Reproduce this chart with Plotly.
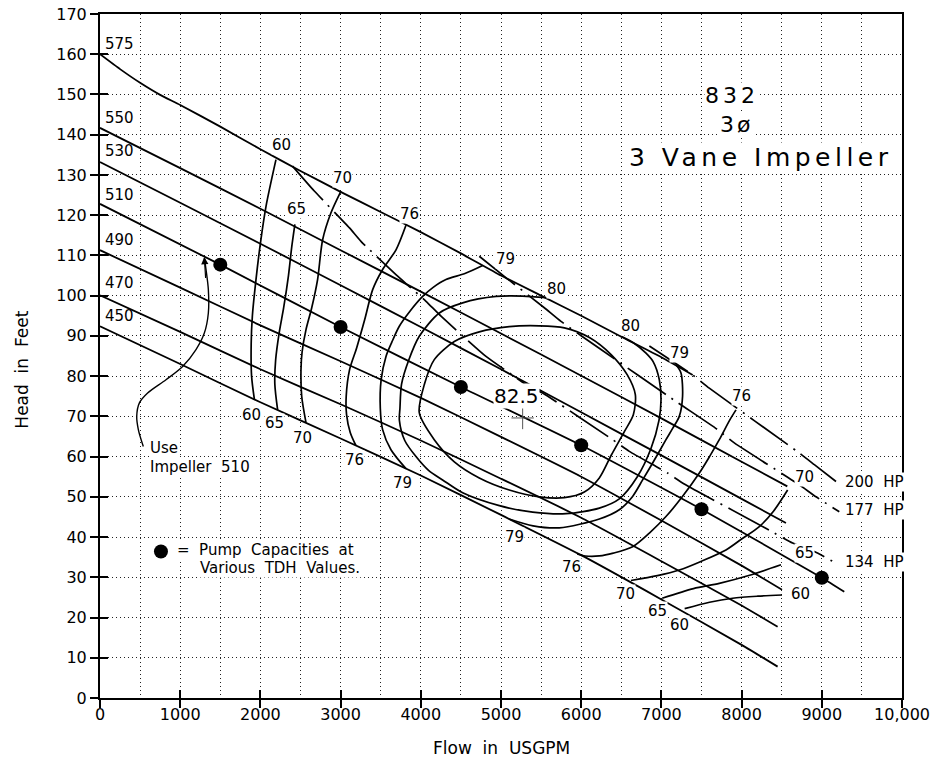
import plotly.graph_objects as go

# ---------------- data ----------------
x_ticks = [0, 1000, 2000, 3000, 4000, 5000, 6000, 7000, 8000, 9000, 10000]
x_ticktext = ["0", "1000", "2000", "3000", "4000", "5000", "6000", "7000", "8000", "9000", "10,000"]
y_ticks = list(range(0, 171, 10))

# impeller diameter curves (flow, head)
imp575_x = [0, 250, 500, 750, 1000, 1500, 2000, 2500, 3000, 3500, 4000, 4500, 5000, 5500, 6000, 6500, 7000, 7390]
imp575_y = [160, 156.3, 152.9, 149.9, 147.4, 142, 136.4, 131, 125.8, 120.8, 115.8, 110.5, 105, 100, 95, 89.8, 84.7, 80.3]
imp550_x = [0, 1000, 2000, 3000, 4000, 5000, 6000, 7000, 8000, 8570]
imp550_y = [141.7, 131.7, 121.6, 111.3, 101, 90.6, 80.1, 69.5, 58.7, 52.6]
imp530_x = [0, 1000, 2000, 3000, 4000, 5000, 6000, 7000, 8000, 8553]
imp530_y = [133.2, 123.1, 112.9, 102.6, 92.2, 81.7, 71, 60.3, 49.5, 43.5]
imp510_x = [0, 1500, 3000, 4500, 6000, 7500, 9000, 9280]
imp510_y = [122.8, 107.7, 92.2, 77.3, 62.8, 46.9, 29.9, 26.4]
imp490_x = [0, 1000, 2000, 3000, 4000, 5000, 6000, 7000, 8000, 8504]
imp490_y = [111.3, 102, 92.6, 83.7, 74.6, 64.9, 55, 44.1, 32.9, 26.9]
imp470_x = [0, 1000, 2000, 3000, 4000, 5000, 6000, 7000, 8000, 8449]
imp470_y = [100.1, 91, 81.7, 73, 64, 54.5, 44.8, 34, 23, 17.7]
imp450_x = [0, 1000, 2000, 3000, 4000, 5000, 6000, 7000, 8000, 8449]
imp450_y = [92.4, 83, 73.5, 64.5, 55.3, 45.5, 35.5, 24.5, 13.2, 7.8]
imp_names = ["575", "550", "530", "510", "490", "470", "450"]
imp_label_y = [162.5, 144.2, 135.9, 125.1, 113.9, 103.1, 95.0]

# efficiency contours
eff60_left_x = [2194, 2070, 2000, 1945, 1900, 1885, 1890, 1925]
eff60_left_y = [133.8, 122.2, 113, 104, 95, 88, 80, 74.2]
eff65_left_x = [2430, 2390, 2350, 2290, 2236, 2190, 2180, 2215]
eff65_left_y = [117.7, 112, 105, 97, 91, 84, 78, 71.6]
eff70_left_x = [3005, 2880, 2776, 2713, 2640, 2568, 2520, 2506, 2515, 2568]
eff70_left_y = [126, 120.6, 113.9, 104, 97, 91.5, 86, 81.6, 75, 68.5]
eff76_left_x = [3815, 3691, 3524, 3400, 3300, 3200, 3112, 3070, 3074, 3120, 3192]
eff76_left_y = [117.5, 111.4, 106.5, 101.5, 94, 87, 81.6, 75, 70.5, 66, 62.7]
eff79_left_x = [4771, 4550, 4314, 4150, 4023, 3860, 3732, 3640, 3566, 3505, 3495, 3524, 3628, 3815]
eff79_left_y = [107.5, 105.5, 104, 102, 99.8, 96, 92.4, 88.5, 84.9, 79, 72, 66.7, 61.7, 57]
eff79_right_x = [7182, 7244, 7264, 7223, 7140, 7057, 6891, 6766, 6641, 6475, 6226, 5727, 5400, 5100]
eff79_right_y = [82.8, 80.8, 75, 70, 67, 64.2, 58.4, 54.2, 50.1, 46.8, 44.5, 42.3, 42.8, 44.5]
eff80_x = [5560, 5270, 4938, 4522, 4231, 3981, 3850, 3760, 3740, 3733, 3800, 3940, 4100, 4272, 4522, 4979,
           5395, 5810, 6226, 6475, 6700, 6870, 6970, 6995, 6974, 6900, 6808, 6650, 6496]
eff80_y = [99.5, 99.9, 99.8, 98.2, 95.7, 89.9, 84, 78, 72, 69, 64, 60, 56.5, 54.2, 51, 47.8,
           46.2, 45.8, 47.2, 49.5, 55, 62, 69, 74, 79.1, 83.5, 85.7, 88.3, 89.9]
eff825_x = [3981, 4044, 4168, 4418, 4729, 5103, 5478, 5790, 6102, 6376, 6575, 6675, 6650, 6538, 6376, 6226,
            6039, 5790, 5478, 5103, 4729, 4418, 4168, 3981]
eff825_y = [70.9, 77.9, 84.1, 88.6, 91, 92.3, 92.5, 92, 89.6, 85.3, 80.3, 75.4, 70.4, 66.2, 60.4, 54.7,
            51.2, 49.8, 50, 51.7, 54.7, 58.7, 64.2, 70.9]
eff76_right_x = [7930, 7850, 7722, 7600, 7473, 7260, 7057, 6850, 6641, 6400, 6226, 6050, 5950]
eff76_right_y = [71.6, 69, 64.2, 60, 55.9, 50, 45.1, 41, 37.6, 36, 35.3, 35.3, 35.8]
eff70_right_x = [8574, 8400, 8221, 8000, 7805, 7500, 7223, 6950, 6620]
eff70_right_y = [51.7, 46.5, 42.6, 39.5, 36.8, 34, 31.8, 30.4, 29.2]
eff65_right_x = [7010, 7400, 7722, 8100, 8491]
eff65_right_y = [24.8, 27.2, 28.5, 30.5, 33.1]
eff60_right_x = [7290, 7600, 7888, 8200, 8504]
eff60_right_y = [22.2, 23.8, 24.8, 25.3, 25.6]

# efficiency labels (text, flow, head)
eff_label_text = ["60", "65", "70", "76", "60", "65", "70", "76", "79", "79", "80", "80", "79", "76", "70",
                  "79", "76", "70", "65", "60", "60", "65"]
eff_label_x = [2257, 2444, 3025, 3857, 1883, 2173, 2526, 3171, 3773, 5062, 5686, 6620, 7223, 7993, 8782,
               5166, 5885, 6558, 6952, 7223, 8740, 8782]
eff_label_y = [137.5, 121.5, 129.2, 120.3, 70.4, 68.3, 64.6, 59.2, 53.4, 109.2, 101.7, 92.4, 85.7, 75, 55,
               39.9, 32.5, 25.9, 21.5, 18.2, 25.9, 36.1]

# horsepower lines
hp134_x = [2400, 2672, 3108, 3254, 3690, 3878, 4065, 4252, 4813, 5103, 5312, 5519, 6392, 6600, 7077, 7285,
           8180, 8408, 8636, 8907, 9177]
hp134_y = [132.2, 126, 116.9, 113.5, 105.2, 101.9, 98.6, 94.9, 84.9, 80.8, 77.9, 75.8, 64.2, 61.3, 55.9, 53.2,
           43.5, 41, 38.5, 36.4, 33.5]
hp177_x = [4729, 5041, 5540, 5748, 6247, 7182, 7701, 7909, 8719, 8928, 9218]
hp177_y = [109.8, 104.8, 97, 93.6, 86.6, 73.7, 66.7, 63.4, 53, 50, 46.3]
hp200_x = [6850, 7389, 7597, 8719, 8907, 9177]
hp200_y = [87.5, 80.3, 77, 60.9, 58, 53.8]
hp_names = ["200\u00a0 HP", "177\u00a0 HP", "134\u00a0 HP"]
hp_label_y = [53.8, 46.8, 33.9]

# pump capacities (dots on impeller 510)
cap_x = [1500, 3000, 4500, 6000, 7500, 9000]
cap_y = [107.7, 92.2, 77.3, 62.8, 46.9, 29.9]

# "Use Impeller 510" pointer curve
use_x = [540, 478, 458, 490, 594, 823, 1030, 1197, 1301, 1351, 1351, 1322, 1301]
use_y = [62.5, 66.7, 70, 73.3, 75.8, 79.1, 82.4, 86.6, 90.7, 95.7, 101.5, 106.5, 109.4]

bep_x, bep_y = [5270], [69.6]

# ---------------- figure ----------------
FONT = "DejaVu Sans"
fig = go.Figure()


def add_line(xs, ys, width=1.5, dash=None, smoothing=0.7):
    fig.add_trace(go.Scatter(x=xs, y=ys, mode="lines",
                             line=dict(color="black", width=width, dash=dash, shape="spline", smoothing=smoothing),
                             hoverinfo="skip", showlegend=False))


for xs, ys in [(imp575_x, imp575_y), (imp550_x, imp550_y), (imp530_x, imp530_y), (imp510_x, imp510_y),
               (imp490_x, imp490_y), (imp470_x, imp470_y), (imp450_x, imp450_y)]:
    add_line(xs, ys, width=1.8, smoothing=0.5)

for xs, ys in [(eff60_left_x, eff60_left_y), (eff65_left_x, eff65_left_y), (eff70_left_x, eff70_left_y),
               (eff76_left_x, eff76_left_y), (eff79_left_x, eff79_left_y), (eff79_right_x, eff79_right_y),
               (eff80_x, eff80_y), (eff825_x, eff825_y), (eff76_right_x, eff76_right_y),
               (eff70_right_x, eff70_right_y), (eff65_right_x, eff65_right_y), (eff60_right_x, eff60_right_y)]:
    add_line(xs, ys, width=1.7, smoothing=0.8)

HP_DASH = "46px,7px,2px,7px"
for xs, ys in [(hp134_x, hp134_y), (hp177_x, hp177_y), (hp200_x, hp200_y)]:
    add_line(xs, ys, width=1.7, dash=HP_DASH, smoothing=0.5)

add_line(use_x, use_y, width=1.4, smoothing=0.9)

fig.add_trace(go.Scatter(x=cap_x, y=cap_y, mode="markers",
                         marker=dict(color="black", size=14, symbol="circle"),
                         hoverinfo="skip", showlegend=False))
fig.add_trace(go.Scatter(x=[760], y=[36.4], mode="markers",
                         marker=dict(color="black", size=14, symbol="circle"),
                         hoverinfo="skip", showlegend=False))
fig.add_trace(go.Scatter(x=bep_x, y=bep_y, mode="markers",
                         marker=dict(symbol="cross-thin", size=16, line=dict(width=1, color="#555")),
                         hoverinfo="skip", showlegend=False))
# invisible trace on the overlay axes (inside tick marks)
fig.add_trace(go.Scatter(x=[0], y=[0], xaxis="x2", yaxis="y2", mode="markers",
                         marker=dict(opacity=0), hoverinfo="skip", showlegend=False))

ann = []
for t, x, y in zip(eff_label_text, eff_label_x, eff_label_y):
    ann.append(dict(x=x, y=y, text=t, showarrow=False, font=dict(family=FONT, size=15, color="black"),
                    bgcolor="white", borderpad=0))
for t, y in zip(imp_names, imp_label_y):
    ann.append(dict(x=42, y=y, text=t, showarrow=False, xanchor="left",
                    font=dict(family=FONT, size=15, color="black")))
for t, y in zip(hp_names, hp_label_y):
    ann.append(dict(x=9282, y=y, text=t, showarrow=False, xanchor="left",
                    font=dict(family=FONT, size=15, color="black"), bgcolor="white", borderpad=0))
ann.append(dict(x=5187, y=75, text="82.5", showarrow=False, font=dict(family=FONT, size=20, color="black"),
                bgcolor="white", borderpad=0))
ann.append(dict(x=616, y=62.2, text="Use", showarrow=False, xanchor="left",
                font=dict(family=FONT, size=15, color="black"), bgcolor="white", borderpad=0))
ann.append(dict(x=616, y=57.4, text="Impeller\u00a0 510", showarrow=False, xanchor="left",
                font=dict(family=FONT, size=15, color="black"), bgcolor="white", borderpad=0))
ann.append(dict(x=951, y=36.8, text="=\u00a0 Pump\u00a0 Capacities\u00a0 at", showarrow=False, xanchor="left",
                font=dict(family=FONT, size=15, color="black"), bgcolor="white", borderpad=0))
ann.append(dict(x=1238, y=32.3, text="Various\u00a0 TDH\u00a0 Values.", showarrow=False, xanchor="left",
                font=dict(family=FONT, size=15, color="black"), bgcolor="white", borderpad=0))
ann.append(dict(x=1301, y=109.6, ax=1318, ay=104.0, axref="x", ayref="y", text="", showarrow=True,
                arrowhead=2, arrowsize=1.2, arrowwidth=1.2, arrowcolor="black"))
# title block
ann.append(dict(x=(733 - 100.7) / 802 * 10000, y=(698 - 95) / 4.024,
                text='<span style="letter-spacing:4px">832</span>', showarrow=False,
                font=dict(family=FONT, size=22, color="black"), bgcolor="white", borderpad=0))
ann.append(dict(x=(737 - 100.7) / 802 * 10000, y=(698 - 124) / 4.024,
                text='<span style="letter-spacing:3px">3ø</span>', showarrow=False,
                font=dict(family=FONT, size=22, color="black"), bgcolor="white", borderpad=0))
ann.append(dict(x=(762 - 100.7) / 802 * 10000, y=(698 - 157) / 4.024,
                text='<span style="letter-spacing:4.5px">3 Vane Impeller</span>', showarrow=False,
                font=dict(family=FONT, size=25, color="black"), bgcolor="white", borderpad=0))
# axis titles
ann.append(dict(xref="paper", yref="paper", x=0.5, y=-0.073, xanchor="center", yanchor="middle",
                text="Flow\u00a0 in\u00a0 USGPM", showarrow=False,
                font=dict(family=FONT, size=17, color="black")))
ann.append(dict(xref="paper", yref="paper", x=-0.0973, y=0.48, xanchor="center", yanchor="middle",
                text="Head\u00a0 in\u00a0 Feet", showarrow=False,
                textangle=-90, font=dict(family=FONT, size=17, color="black")))

GRID = dict(showgrid=True, gridcolor="#222", gridwidth=1.2, griddash="1px,3px")

fig.update_layout(
    width=936, height=767,
    margin=dict(l=100, r=34, t=14, b=69, autoexpand=False),
    paper_bgcolor="white", plot_bgcolor="white",
    font=dict(family=FONT, color="black"),
    annotations=ann,
    xaxis=dict(range=[0, 10000], tickvals=x_ticks, ticktext=x_ticktext, ticks="outside", ticklen=8,
               tickwidth=2, tickcolor="black", showline=True, linewidth=2, linecolor="black", mirror=True,
               zeroline=False, automargin=False, ticklabelstandoff=-7, ticklabeloverflow="allow",
               tickfont=dict(family=FONT, size=16, color="black"),
               minor=dict(dtick=500, tick0=0, ticks="", showgrid=True, gridcolor="#222", gridwidth=1.2,
                          griddash="1px,3px"),
               **GRID),
    yaxis=dict(range=[0, 170], tickvals=y_ticks, ticks="outside", ticklen=8, tickwidth=2, tickcolor="black",
               showline=True, linewidth=2, linecolor="black", mirror=True, zeroline=False, automargin=False,
               ticklabeloverflow="allow", tickfont=dict(family=FONT, size=16, color="black"), **GRID),
    xaxis2=dict(range=[0, 10000], overlaying="x", anchor="y", side="bottom", tickvals=x_ticks, ticks="inside",
                ticklen=8, tickwidth=2, tickcolor="black", showticklabels=False, showgrid=False,
                showline=False, zeroline=False, automargin=False),
    yaxis2=dict(range=[0, 170], overlaying="y", anchor="x", side="left", tickvals=y_ticks, ticks="inside",
                ticklen=8, tickwidth=2, tickcolor="black", showticklabels=False, showgrid=False,
                showline=False, zeroline=False, automargin=False),
)

# remove the default 8 px page margin so the figure sits exactly in the window
fig.write_html("out.html", config={"displayModeBar": False},
               post_script="document.body.style.margin='0';")
